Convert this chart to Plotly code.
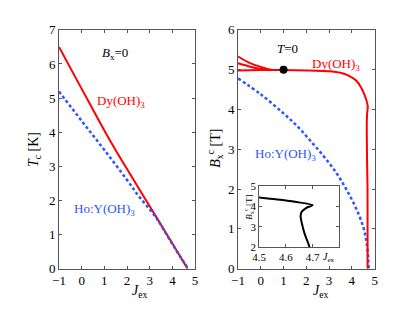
import plotly.graph_objects as go

# ---------------- data ----------------
# Left panel: Tc vs Jex (Bx = 0)
dy_tc_j = [-1, 0, 0.5, 1, 1.5, 2, 3, 4, 4.67]
dy_tc = [6.5, 5.27, 4.66, 4.05, 3.47, 2.92, 1.83, 0.74, 0.0]
ho_tc_j = [-1, 0, 1, 2, 2.5, 3, 3.3, 3.6, 4, 4.3, 4.7]
ho_tc = [5.19, 4.33, 3.48, 2.6, 2.14, 1.74, 1.48, 1.16, 0.72, 0.4, 0.0]

# Right panel: Bxc vs Jex (T = 0)
dy_bc_j = [-1, 0, 1, 2, 3, 3.5, 3.9, 4.2, 4.4, 4.5, 4.6, 4.7, 4.675, 4.658,
           4.655, 4.66, 4.67, 4.688, 4.69, 4.69]
dy_bc = [4.98, 4.99, 4.99, 4.98, 4.96, 4.92, 4.84, 4.72, 4.56, 4.44, 4.3, 4.07,
         3.92, 3.72, 3.5, 3.15, 2.65, 2.0, 1.0, 0.0]
dy_bc_top_j = [-1, -0.5, 0, 0.45, 1]
dy_bc_top = [5.33, 5.17, 5.07, 5.0, 4.99]
dy_bc_mid_j = [-1, -0.5, 0, 0.3, 1]
dy_bc_mid = [5.16, 5.08, 5.02, 5.0, 4.99]
ho_bc_j = [-1, 0, 1, 1.6, 2.2, 2.8, 3.35, 3.8, 4.2, 4.5, 4.62, 4.7, 4.74]
ho_bc = [4.78, 4.38, 3.9, 3.58, 3.2, 2.8, 2.38, 1.95, 1.5, 1.05, 0.75, 0.4, 0.0]
dot_j = [1.0]
dot_b = [5.0]

x_ticks = [-1, 0, 1, 2, 3, 4, 5]
tc_ticks = [0, 1, 2, 3, 4, 5, 6, 7]
bc_ticks = [0, 1, 2, 3, 4, 5, 6]
inset_x_ticks = [4.5, 4.6, 4.7]
inset_y_ticks = [2, 3, 4, 5]

# ---------------- figure ----------------
W, H = 415, 310
RED = "rgb(255,0,0)"
BLUE = "rgb(45,85,255)"
FONT = "Liberation Serif"


def px(x):
    return x / W


def py(y):
    return 1 - y / H


fig = go.Figure()

fig.add_trace(go.Scatter(x=dy_tc_j, y=dy_tc, mode="lines", line=dict(color=RED, width=2, shape="spline"),
                         xaxis="x", yaxis="y"))
fig.add_trace(go.Scatter(x=ho_tc_j, y=ho_tc, mode="lines",
                         line=dict(color=BLUE, width=2.5, dash="3px,2.5px", shape="spline"),
                         xaxis="x", yaxis="y"))

fig.add_trace(go.Scatter(x=ho_bc_j, y=ho_bc, mode="lines",
                         line=dict(color=BLUE, width=2.5, dash="3px,2.5px", shape="spline"),
                         xaxis="x2", yaxis="y2"))
for xs, ys in [(dy_bc_j, dy_bc), (dy_bc_top_j, dy_bc_top), (dy_bc_mid_j, dy_bc_mid)]:
    fig.add_trace(go.Scatter(x=xs, y=ys, mode="lines",
                             line=dict(color=RED, width=2, shape="spline", smoothing=0.6),
                             xaxis="x2", yaxis="y2"))
fig.add_trace(go.Scatter(x=dot_j, y=dot_b, mode="markers", marker=dict(color="black", size=8),
                         xaxis="x2", yaxis="y2"))

# inset
fig.add_trace(go.Scatter(x=dy_bc_j, y=dy_bc, mode="lines",
                         line=dict(color="black", width=2, shape="spline", smoothing=0.6),
                         xaxis="x3", yaxis="y3"))

axis_common = dict(showgrid=False, zeroline=False, showline=True, linecolor="#555555", linewidth=1,
                   mirror="ticks", ticks="inside", ticklen=3, tickcolor="#555555",
                   tickfont=dict(family=FONT, size=13, color="black"))
inset_axis = {**axis_common, "tickfont": dict(family=FONT, size=11, color="black")}

fig.update_layout(
    width=W, height=H, margin=dict(l=0, r=0, t=0, b=0),
    paper_bgcolor="white", plot_bgcolor="white", showlegend=False,
    font=dict(family=FONT, size=12, color="black"),
    xaxis=dict(domain=[px(53.3), px(192.7)], range=[-1, 5], tickvals=x_ticks, anchor="y", **axis_common),
    yaxis=dict(domain=[py(275), py(24)], range=[0, 7], tickvals=tc_ticks, anchor="x", **axis_common),
    xaxis2=dict(domain=[px(236.7), px(376.7)], range=[-1, 5], tickvals=x_ticks, anchor="y2", **axis_common),
    yaxis2=dict(domain=[py(275), py(24)], range=[0, 6], tickvals=bc_ticks, anchor="x2", **axis_common),
    xaxis3=dict(domain=[px(258.3), px(340.7)], range=[4.5, 4.8], tickvals=inset_x_ticks,
                tickformat=".1f", anchor="y3", **inset_axis),
    yaxis3=dict(domain=[py(252.3), py(188.3)], range=[2, 5], tickvals=inset_y_ticks, anchor="x3",
                **inset_axis),
)

ann = []


def label(text, x, y, xref, yref, size=13, color="black", angle=0, xanchor="center"):
    ann.append(dict(text=text, x=x, y=y, xref=xref, yref=yref, showarrow=False,
                    font=dict(family=FONT, size=size, color=color), textangle=angle,
                    xanchor=xanchor, yanchor="middle"))


# left panel labels
label("<i>B</i><sub>x</sub>=0", 0.8, 6.32, "x", "y", xanchor="left")
label("Dy(OH)<sub>3</sub>", 0.58, 4.9, "x", "y", color=RED, xanchor="left")
label("Ho:Y(OH)<sub>3</sub>", -0.42, 1.72, "x", "y", color=BLUE, xanchor="left")
# right panel labels
label("<i>T</i>=0", 0.64, 5.52, "x2", "y2", xanchor="left")
label("Dy(OH)<sub>3</sub>", 2.18, 5.14, "x2", "y2", color=RED, xanchor="left")
label("Ho:Y(OH)<sub>3</sub>", -0.36, 2.88, "x2", "y2", color=BLUE, xanchor="left")

# axis titles
label("<i>T</i><sub>c</sub> [K]", px(28), py(150), "paper", "paper", size=14, angle=-90)
label("<i>B</i><sub>x</sub><sup>c</sup> [T]", px(213), py(148), "paper", "paper", size=14, angle=-90)
label("<i>J</i><sub>ex</sub>", px(136), py(299), "paper", "paper", size=14)
label("<i>J</i><sub>ex</sub>", px(322), py(299), "paper", "paper", size=14)
# inset titles
label("<i>B</i><sub>x</sub><sup>c</sup> [T]", px(248), py(211), "paper", "paper", size=9, angle=-90)
label("<i>J</i><sub>ex</sub>", px(330), py(263), "paper", "paper", size=10)

fig.update_layout(annotations=ann)
fig.write_html("out.html", config={"displayModeBar": False},
               post_script="document.body.style.margin='0px';")
